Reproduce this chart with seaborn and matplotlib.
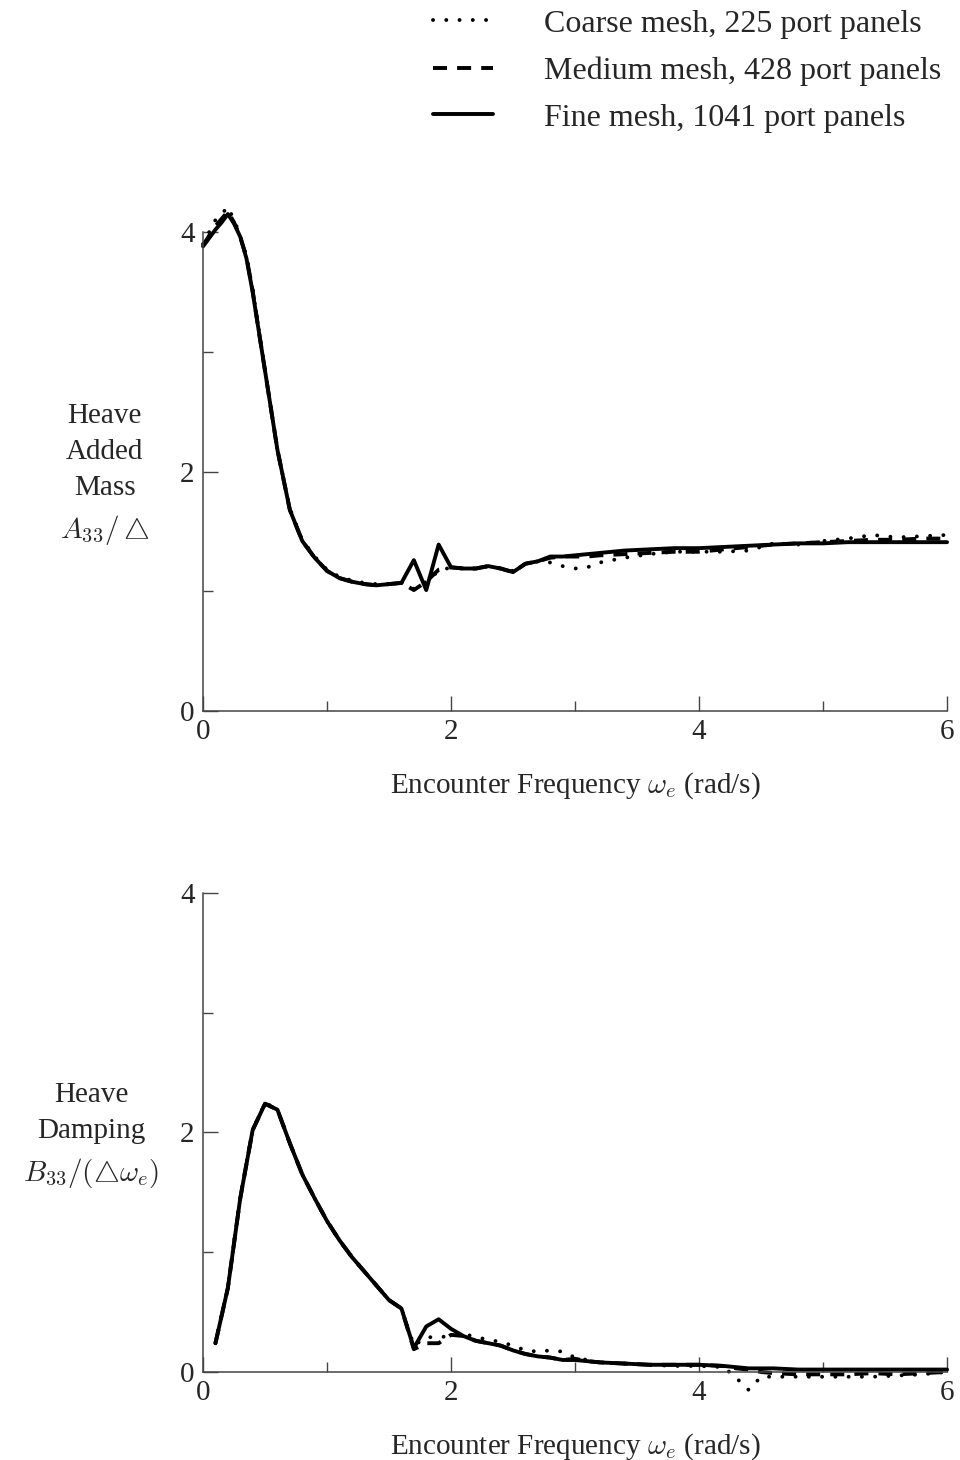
import matplotlib
matplotlib.use("Agg")
import matplotlib.pyplot as plt
import seaborn as sns

# encounter frequency grids (rad/s)
freq_a = [0.0, 0.05, 0.1, 0.15, 0.2, 0.25, 0.3, 0.35, 0.4, 0.45, 0.5, 0.6, 0.7, 0.8, 0.9,
          1.0, 1.1, 1.2, 1.3, 1.4, 1.5, 1.6, 1.7, 1.8, 1.9, 2.0, 2.1, 2.2, 2.3, 2.4, 2.5,
          2.6, 2.7, 2.8, 2.9, 3.0, 3.1, 3.2, 3.4, 3.6, 3.8, 4.0, 4.2, 4.4, 4.6, 4.8, 5.0,
          5.2, 5.4, 5.6, 5.8, 6.0]
freq_b = [0.1, 0.2, 0.3, 0.4, 0.5, 0.6, 0.7, 0.8, 0.9, 1.0, 1.1, 1.2, 1.3, 1.4, 1.5, 1.6,
          1.7, 1.8, 1.9, 2.0, 2.1, 2.2, 2.3, 2.4, 2.5, 2.6, 2.7, 2.8, 2.9, 3.0, 3.1, 3.2,
          3.4, 3.6, 3.8, 4.0, 4.2, 4.3, 4.4, 4.5, 4.6, 4.8, 5.0, 5.2, 5.4, 5.6, 5.8, 6.0]

# heave added mass A33/displacement
added_coarse = [3.90, 4.00, 4.10, 4.15, 4.21, 4.10, 3.97, 3.80, 3.52, 3.18, 2.85, 2.18, 1.69,
                1.43, 1.29, 1.18, 1.12, 1.09, 1.07, 1.06, 1.06, 1.07, 1.02, 1.08, 1.17, 1.20,
                1.19, 1.19, 1.21, 1.19, 1.17, 1.23, 1.25, 1.24, 1.21, 1.19, 1.20, 1.24, 1.28,
                1.31, 1.33, 1.33, 1.33, 1.34, 1.40, 1.39, 1.42, 1.44, 1.47, 1.45, 1.46, 1.47]
added_medium = [3.89, 3.97, 4.05, 4.11, 4.17, 4.08, 3.96, 3.79, 3.51, 3.17, 2.84, 2.18, 1.68,
                1.42, 1.28, 1.17, 1.11, 1.08, 1.06, 1.05, 1.06, 1.07, 1.01, 1.08, 1.18, 1.20,
                1.19, 1.19, 1.21, 1.19, 1.16, 1.23, 1.25, 1.28, 1.29, 1.29, 1.29, 1.30, 1.31,
                1.32, 1.33, 1.33, 1.35, 1.37, 1.39, 1.40, 1.41, 1.42, 1.43, 1.43, 1.44, 1.44]
added_fine = [3.88, 3.95, 4.02, 4.08, 4.15, 4.07, 3.96, 3.78, 3.50, 3.17, 2.84, 2.18, 1.68,
              1.42, 1.28, 1.17, 1.11, 1.08, 1.06, 1.05, 1.06, 1.07, 1.26, 1.01, 1.39, 1.20,
              1.19, 1.19, 1.21, 1.19, 1.16, 1.23, 1.25, 1.29, 1.29, 1.30, 1.31, 1.32, 1.34,
              1.35, 1.36, 1.36, 1.37, 1.38, 1.39, 1.40, 1.40, 1.41, 1.41, 1.41, 1.41, 1.41]

# heave damping B33/(displacement*omega_e)
damp_coarse = [0.24, 0.71, 1.46, 2.02, 2.25, 2.19, 1.91, 1.65, 1.45, 1.26, 1.10, 0.96, 0.84,
               0.72, 0.60, 0.53, 0.22, 0.29, 0.29, 0.30, 0.32, 0.29, 0.27, 0.25, 0.22, 0.18,
               0.17, 0.18, 0.17, 0.12, 0.10, 0.08, 0.07, 0.06, 0.05, 0.05, 0.04, -0.05, -0.15,
               -0.04, -0.04, -0.04, -0.04, -0.04, -0.04, -0.03, -0.02, 0.00]
damp_medium = [0.24, 0.70, 1.45, 2.02, 2.24, 2.19, 1.91, 1.65, 1.45, 1.26, 1.10, 0.96, 0.84,
               0.72, 0.60, 0.53, 0.19, 0.24, 0.24, 0.31, 0.30, 0.26, 0.24, 0.22, 0.18, 0.15,
               0.13, 0.12, 0.10, 0.11, 0.09, 0.08, 0.07, 0.06, 0.06, 0.06, 0.05, 0.03, 0.02,
               0.00, -0.01, -0.02, -0.02, -0.02, -0.01, -0.02, -0.01, 0.00]
damp_fine = [0.24, 0.70, 1.45, 2.02, 2.24, 2.19, 1.91, 1.65, 1.45, 1.26, 1.10, 0.96, 0.84,
             0.72, 0.60, 0.53, 0.20, 0.38, 0.44, 0.36, 0.30, 0.26, 0.24, 0.22, 0.18, 0.15,
             0.13, 0.12, 0.10, 0.10, 0.09, 0.08, 0.07, 0.06, 0.06, 0.06, 0.05, 0.04, 0.03,
             0.03, 0.03, 0.02, 0.02, 0.02, 0.02, 0.02, 0.02, 0.02]

labels = ['Coarse mesh, 225 port panels', 'Medium mesh, 428 port panels',
          'Fine mesh, 1041 port panels']

sns.set_style('ticks')
plt.rcParams['font.family'] = ['Liberation Serif', 'DejaVu Serif']
plt.rcParams['mathtext.fontset'] = 'cm'
plt.rcParams['font.size'] = 21

LW = 2.8
FS = 21
styles = [dict(linestyle=(0, (0.01, 3.4)), dash_capstyle='round'),
          dict(linestyle=(0, (3.6, 2.6)), dash_capstyle='butt'),
          dict(linestyle='-')]

fig = plt.figure(figsize=(9.6, 14.6), dpi=100)
ax1 = fig.add_axes([0.2115, 0.5130, 0.775, 0.3527])
ax2 = fig.add_axes([0.2115, 0.0603, 0.775, 0.3527])


def draw_panel(ax, freq, series, ylabel, label_x):
    for vals, st, lab in zip(series, styles, labels):
        sns.lineplot(x=freq, y=vals, ax=ax, color='black', lw=LW, sort=False,
                     estimator=None, label=lab, clip_on=False, **st)
    ax.set_xlim(0, 6)
    ax.set_ylim(0, 4.3)
    ax.set_xticks([0, 2, 4, 6])
    ax.set_xticks([1, 3, 5], minor=True)
    ax.set_yticks([0, 2, 4])
    ax.set_yticks([1, 3], minor=True)
    ax.spines['left'].set_bounds(0, 4)
    for side in ['top', 'right']:
        ax.spines[side].set_visible(False)
    for side in ['left', 'bottom']:
        ax.spines[side].set_color('#444444')
        ax.spines[side].set_linewidth(1.1)
    ax.tick_params(which='major', direction='in', length=11, width=1, color='#444444',
                   pad=6, labelsize=FS)
    ax.tick_params(which='minor', direction='in', length=7.5, width=1, color='#444444')
    ax.set_xlabel(r'Encounter Frequency $\omega_e$ (rad/s)', fontsize=FS, labelpad=18)
    ax.set_ylabel(ylabel, rotation=0, ha='center', va='center', fontsize=FS,
                  linespacing=1.5)
    ax.yaxis.set_label_coords(label_x, 0.458)
    leg = ax.get_legend()
    if leg is not None:
        leg.remove()


draw_panel(ax1, freq_a, [added_coarse, added_medium, added_fine],
           'Heave\nAdded\nMass\n' + r'$A_{33}/\bigtriangleup$', -0.132)
draw_panel(ax2, freq_b, [damp_coarse, damp_medium, damp_fine],
           'Heave\nDamping\n' + r'$B_{33}/(\bigtriangleup\omega_e)$', -0.15)

fig.legend(handles=ax1.get_lines()[:3], labels=labels, loc='upper right',
           bbox_to_anchor=(0.9875, 0.998), frameon=False, fontsize=23,
           handlelength=1.9, handletextpad=1.6, labelspacing=0.55,
           borderaxespad=0, borderpad=0.2)

plt.savefig('out.png', dpi=100)
plt.close()
